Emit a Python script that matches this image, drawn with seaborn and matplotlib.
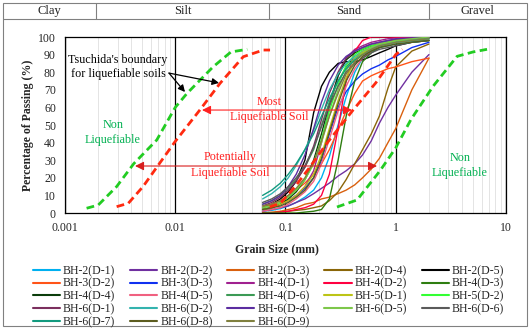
import matplotlib
matplotlib.use("Agg")
import matplotlib.pyplot as plt
import seaborn as sns
import pandas as pd
from matplotlib.ticker import LogLocator, NullFormatter, FixedLocator, FixedFormatter
from matplotlib.lines import Line2D
from matplotlib.patches import Rectangle

# ---------------- data ----------------
grain_size_mm = [0.062, 0.075, 0.09, 0.106, 0.125, 0.15, 0.18, 0.212, 0.25, 0.3,
                 0.355, 0.425, 0.5, 0.6, 0.71, 0.85, 1.0, 1.4, 2.0]

bh2_d1 = [1, 1.5, 2.5, 4, 6, 9, 13, 20, 32, 50, 66, 80, 88, 93, 96, 97.5, 98.5, 99.5, 100]
bh2_d2 = [1, 2, 3, 4, 6, 8, 11, 14, 17, 21, 24, 28, 33, 41, 51, 60, 67, 80, 90]
bh2_d3 = [0, 0.5, 1, 2, 3, 5, 6, 8, 9, 11, 13, 16, 20, 25, 31, 40, 48, 70, 88]
bh2_d4 = [0, 0, 0.5, 1, 1.5, 2, 3, 4, 7, 12, 19, 28, 36, 45, 55, 71, 83, 92, 96]
bh2_d5 = [3, 5, 8, 12, 18, 30, 57, 72, 80, 85, 86, 86, 87, 89, 91, 93, 95, 97, 98]
bh3_d2 = [3, 5, 7, 10, 13, 17, 22, 28, 36, 47, 58, 68, 75, 78, 80, 82, 83, 86, 88]
bh3_d3 = [2, 3, 5, 7, 10, 14, 20, 30, 45, 60, 69, 75, 79, 82, 84, 87, 89, 94, 97]
bh4_d1 = [2, 3, 5, 7, 10, 15, 24, 40, 60, 78, 88, 93, 95, 97, 98, 99, 99.5, 100, 100]
bh4_d2 = [0, 0, 0.5, 1, 2, 3, 5, 10, 22, 48, 75, 92, 98, 100, 100, 100, 100, 100, 100]
bh4_d3 = [0, 0, 0, 0, 0, 0.5, 1, 2, 8, 30, 55, 75, 86, 91, 94, 96, 97, 98, 99]
bh4_d4 = [2, 3, 5, 8, 12, 19, 30, 45, 62, 78, 87, 91, 93, 95, 96, 97, 98, 99, 99.5]
bh4_d5 = [1, 2, 3, 5, 8, 12, 18, 28, 42, 58, 72, 82, 88, 92, 95, 97, 98, 99, 100]
bh4_d6 = [5, 7, 10, 14, 19, 26, 36, 50, 63, 75, 83, 88, 91, 93, 95, 96, 97, 98, 99]
bh5_d1 = [2, 3, 5, 7, 10, 15, 22, 33, 48, 64, 77, 86, 91, 94, 96, 97, 98, 99, 100]
bh5_d2 = [3, 4, 6, 9, 13, 19, 28, 42, 58, 73, 84, 90, 93, 95, 96, 97, 98, 99, 100]
bh6_d1 = [4, 6, 9, 13, 18, 26, 38, 53, 68, 80, 88, 92, 94, 96, 97, 98, 98.5, 99, 100]
bh6_d2 = [8, 11, 15, 20, 27, 36, 47, 59, 70, 79, 85, 89, 92, 94, 95, 96, 97, 98, 99]
bh6_d4 = [5, 7, 10, 15, 22, 33, 48, 63, 75, 84, 89, 92, 94, 96, 97, 98, 99, 99.5, 100]
bh6_d5 = [3, 4, 6, 9, 13, 19, 28, 40, 55, 70, 81, 88, 92, 94, 96, 97, 98, 99, 100]
bh6_d6 = [6, 8, 11, 15, 20, 27, 37, 49, 61, 72, 80, 85, 88, 91, 93, 94, 95, 97, 98]
bh6_d7 = [10, 13, 17, 22, 28, 36, 45, 55, 65, 75, 82, 87, 90, 92, 94, 95, 96, 97, 98]
bh6_d8 = [2, 3, 4, 6, 9, 13, 20, 31, 46, 62, 75, 84, 89, 92, 94, 95, 96, 97, 98]
bh6_d9 = [4, 5, 7, 10, 14, 20, 29, 41, 55, 68, 79, 86, 90, 93, 95, 96, 97, 98, 99]

sample_names = ["BH-2(D-1)", "BH-2(D-2)", "BH-2(D-3)", "BH-2(D-4)", "BH-2(D-5)",
                "BH-3(D-2)", "BH-3(D-3)", "BH-4(D-1)", "BH-4(D-2)", "BH-4(D-3)",
                "BH-4(D-4)", "BH-4(D-5)", "BH-4(D-6)", "BH-5(D-1)", "BH-5(D-2)",
                "BH-6(D-1)", "BH-6(D-2)", "BH-6(D-4)", "BH-6(D-5)", "BH-6(D-6)",
                "BH-6(D-7)", "BH-6(D-8)", "BH-6(D-9)"]
sample_values = [bh2_d1, bh2_d2, bh2_d3, bh2_d4, bh2_d5, bh3_d2, bh3_d3, bh4_d1,
                 bh4_d2, bh4_d3, bh4_d4, bh4_d5, bh4_d6, bh5_d1, bh5_d2, bh6_d1,
                 bh6_d2, bh6_d4, bh6_d5, bh6_d6, bh6_d7, bh6_d8, bh6_d9]
sample_colors = ["#00B0F0", "#7030A0", "#D9600E", "#8A6508", "#000000",
                 "#FF5418", "#1030F0", "#A0208F", "#FF0040", "#2E7D10",
                 "#0B3D0B", "#F06080", "#3C9A55", "#BCC416", "#33FF33",
                 "#7B2F5E", "#33B3AE", "#5B2DA0", "#7DC74A", "#5A5A5A",
                 "#129A7E", "#5C5C1F", "#80803F"]

# Tsuchida's boundaries
green_left_d = [0.00157, 0.002, 0.00294, 0.0042, 0.0068, 0.01, 0.0128, 0.022, 0.032, 0.045]
green_left_p = [2.7, 4.5, 15, 28, 41.5, 60, 68, 83, 91.5, 93]
red_left_d = [0.00294, 0.00375, 0.0051, 0.0068, 0.00995, 0.0167, 0.0255, 0.0414, 0.063, 0.0724]
red_left_p = [3.6, 5.5, 15, 26, 40.5, 58.5, 73.7, 88.8, 92.6, 92.6]
red_right_d = [0.072, 0.09, 0.122, 0.166, 0.24, 0.41, 0.66, 1.0, 1.15]
red_right_p = [3.5, 5.5, 15, 26, 40, 58.5, 74, 90, 93]
green_right_d = [0.293, 0.446, 0.72, 1.0, 1.37, 2.18, 3.6, 5.02, 6.73]
green_right_p = [3.4, 7.4, 24, 37, 53, 72, 89, 91.5, 93]

x_ticks = [0.001, 0.01, 0.1, 1, 10]
x_tick_labels = ["0.001", "0.01", "0.1", "1", "10"]
y_ticks = [0, 10, 20, 30, 40, 50, 60, 70, 80, 90, 100]
header_labels = ["Clay", "Silt", "Sand", "Gravel"]

# ---------------- style ----------------
sns.set_style("white")
plt.rcParams["font.family"] = "serif"
plt.rcParams["font.serif"] = ["Liberation Serif", "Times New Roman", "DejaVu Serif"]
plt.rcParams["font.size"] = 8.5

W, H = 529, 328
fig = plt.figure(figsize=(W / 100, H / 100), dpi=100)
fig.patch.set_facecolor("white")

def fx(px):
    return px / W

def fy(py):
    return 1 - py / H

ax = fig.add_axes([fx(65), fy(213), (506 - 65) / W, (213 - 37) / H])
ax.set_xscale("log")
ax.set_xlim(0.001, 10)
ax.set_ylim(0, 100)

rows = []
for name, vals in zip(sample_names, sample_values):
    for d, p in zip(grain_size_mm, vals):
        rows.append((name, d, p))
df = pd.DataFrame(rows, columns=["Sample", "d", "p"])

sns.lineplot(data=df, x="d", y="p", hue="Sample", hue_order=sample_names,
             palette=dict(zip(sample_names, sample_colors)),
             estimator=None, sort=False, lw=1.0, ax=ax, legend=True, zorder=3)
handles, labels = ax.get_legend_handles_labels()
if ax.get_legend() is not None:
    ax.get_legend().remove()

dash = (0, (2.8, 1.6))
for xs, ys, c in [(green_left_d, green_left_p, "#22CC22"),
                  (red_left_d, red_left_p, "#FF2A10"),
                  (red_right_d, red_right_p, "#FF2A10"),
                  (green_right_d, green_right_p, "#22CC22")]:
    sns.lineplot(x=xs, y=ys, color=c, lw=2.0, linestyle=dash, sort=False,
                 estimator=None, ax=ax, zorder=4, legend=False)
if ax.get_legend() is not None:
    ax.get_legend().remove()

# axes styling
ax.xaxis.set_major_locator(FixedLocator(x_ticks))
ax.xaxis.set_major_formatter(FixedFormatter(x_tick_labels))
ax.xaxis.set_minor_locator(LogLocator(base=10, subs=range(2, 10)))
ax.xaxis.set_minor_formatter(NullFormatter())
ax.set_yticks(y_ticks)
ax.grid(False)
ax.grid(which="minor", axis="x", color="#e4e4e4", lw=0.7)
ax.grid(which="major", axis="x", color="black", lw=0.9)
ax.set_axisbelow(True)
ax.tick_params(which="both", length=0, pad=6.5, labelsize=8.5)
for s in ax.spines.values():
    s.set_color("black")
    s.set_linewidth(0.9)

ax.set_xlabel("Grain Size (mm)", fontweight="bold", fontsize=8.5)
ax.set_ylabel("Percentage of Passing (%)", fontweight="bold", fontsize=8.5)
ax.xaxis.set_label_coords(0.48, -0.17)
ax.yaxis.set_label_coords(-0.071, 0.5)

# annotations
ax.text(0.00303, 83, "Tsuchida's boundary\nfor liquefiable soils", ha="center",
        va="center", fontsize=8.7, color="black", linespacing=1.3, zorder=6)
for tip in [(0.01226, 68.75), (0.02494, 73.9)]:
    ax.annotate("", xy=tip, xytext=(0.00877, 79.5),
                arrowprops=dict(arrowstyle="-|>", color="black", lw=0.9,
                                mutation_scale=10, shrinkA=0, shrinkB=0), zorder=6)

ax.text(0.00272, 45.7, "Non\nLiquefiable", ha="center", va="center",
        fontsize=8.7, color="#00B050", linespacing=1.35, zorder=6)
ax.text(3.83, 27, "Non\nLiquefiable", ha="center", va="center",
        fontsize=8.7, color="#00B050", linespacing=1.35, zorder=6)

ax.annotate("", xy=(0.401, 58.5), xytext=(0.0175, 58.5),
            arrowprops=dict(arrowstyle="<|-|>", color="#FF2020", lw=0.8,
                            mutation_scale=13, shrinkA=0, shrinkB=0), zorder=6)
ax.text(0.0708, 58.7, "Most\nLiquefiable Soil", ha="center", va="center",
        fontsize=8.7, color="#FF2020", linespacing=1.35, zorder=6)

ax.annotate("", xy=(0.676, 26.7), xytext=(0.00432, 26.7),
            arrowprops=dict(arrowstyle="<|-|>", color="#D81E1E", lw=0.8,
                            mutation_scale=13, shrinkA=0, shrinkB=0), zorder=6)
ax.text(0.0317, 27.3, "Potentially\nLiquefiable Soil", ha="center", va="center",
        fontsize=8.7, color="#FF2020", linespacing=1.35, zorder=6)

# header table and outer frame
border = "#808080"
fig.add_artist(Rectangle((fx(2.5), fy(325.5)), (526.5 - 2.5) / W, (325.5 - 2.5) / H,
                         transform=fig.transFigure, fill=False, ec=border, lw=0.8))
fig.add_artist(Line2D([fx(2.5), fx(526.5)], [fy(19), fy(19)], transform=fig.transFigure,
                      color=border, lw=0.8))
dividers = [2.5, 96, 269, 429, 526.5]
for xdv in dividers[1:-1]:
    fig.add_artist(Line2D([fx(xdv), fx(xdv)], [fy(2.5), fy(19)], transform=fig.transFigure,
                          color=border, lw=0.8))
for i, lab in enumerate(header_labels):
    xc = (dividers[i] + dividers[i + 1]) / 2
    fig.text(fx(xc), fy(11), lab, ha="center", va="center", fontsize=9, color="#222222")

# legend: row-wise order across 5 columns
order = []
ncol = 5
n = len(handles)
for c in range(ncol):
    r = 0
    while r * ncol + c < n:
        order.append(r * ncol + c)
        r += 1
leg = fig.legend([handles[i] for i in order], [labels[i] for i in order], ncol=ncol,
                 loc="upper left", bbox_to_anchor=(fx(33), fy(265)), frameon=False,
                 fontsize=8.5, handlelength=2.3, handletextpad=0.25, columnspacing=1.25,
                 labelspacing=0.06, borderpad=0, borderaxespad=0)
for ln in leg.get_lines():
    ln.set_linewidth(1.5)

fig.savefig("out.png", dpi=100, facecolor="white")
